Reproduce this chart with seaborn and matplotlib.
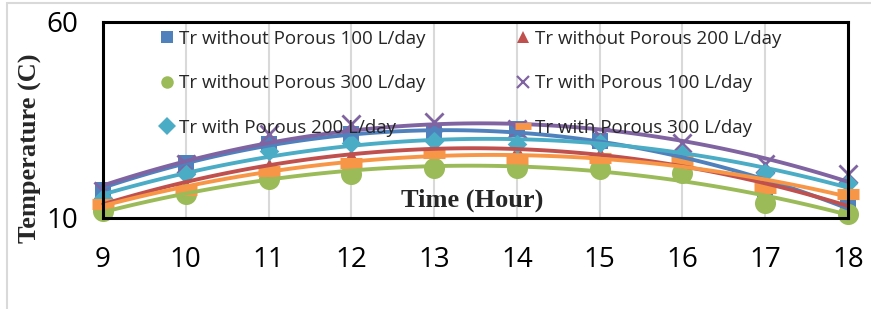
import matplotlib
matplotlib.use("Agg")
import matplotlib.pyplot as plt
import seaborn as sns
import pandas as pd
from matplotlib.patches import Rectangle

# Data
hours = [9, 10, 11, 12, 13, 14, 15, 16, 17, 18]
without_100 = [17.2, 24.1, 29.0, 31.5, 31.8, 32.8, 29.7, 25.4, 16.9, 14.4]
without_200 = [14.4, 18.2, 23.3, 25.9, 28.0, 27.2, 26.4, 24.1, 18.7, 12.6]
without_300 = [11.8, 16.2, 20.0, 21.3, 22.8, 22.8, 22.6, 21.5, 13.8, 11.0]
with_100 = [16.9, 23.8, 31.5, 34.1, 34.4, 32.8, 31.0, 29.2, 23.8, 21.3]
with_200 = [15.1, 21.3, 27.2, 29.2, 29.7, 29.0, 29.2, 26.4, 21.5, 19.0]
with_300 = [13.6, 17.2, 22.0, 24.1, 26.7, 25.1, 25.4, 24.6, 17.7, 16.2]

labels = [
    "Tr without Porous 100 L/day", "Tr without Porous 200 L/day",
    "Tr without Porous 300 L/day", "Tr with Porous 100 L/day",
    "Tr with Porous 200 L/day", "Tr with Porous 300 L/day",
]
series = [without_100, without_200, without_300, with_100, with_200, with_300]
colors = ["#4F81BD", "#C0504D", "#9BBB59", "#8064A2", "#4BACC6", "#F79646"]
markers = ["s", "^", "o", "x", "D", "_"]
msizes = [130, 130, 230, 170, 100, 260]

sns.set_style("white")
plt.rcParams["font.family"] = ["Open Sans", "DejaVu Sans"]

fig = plt.figure(figsize=(8.71, 3.09), dpi=100)
ax = fig.add_axes([103 / 871, 1 - 218 / 309, 745 / 871, 196 / 309])

# light gray chart-area border
fig.patches.append(Rectangle((7 / 871, -0.2), 1.2, 0.99 + 0.2, transform=fig.transFigure,
                             fill=False, edgecolor="#d9d9d9", linewidth=1.5, zorder=0))

handles = []
for lab, vals, c, m, s in zip(labels, series, colors, markers, msizes):
    df = pd.DataFrame({"hour": hours, "temp": vals})
    kw = dict(color=c, s=s, marker=m, ax=ax, clip_on=False, zorder=3)
    if m in ("x", "_"):
        kw["linewidth"] = 2.0 if m == "x" else 8
    else:
        kw["linewidth"] = 0
    sns.scatterplot(data=df, x="hour", y="temp", **kw)
    handles.append(plt.Line2D([], [], color=c, marker=m, linestyle="none",
                              markersize=9 if m != "_" else 11,
                              markeredgewidth=1.6 if m == "x" else (5 if m == "_" else 0)))

for vals, c in zip(series, colors):
    df = pd.DataFrame({"hour": hours, "temp": vals})
    sns.regplot(data=df, x="hour", y="temp", order=2, ci=None, scatter=False, ax=ax,
                line_kws=dict(color=c, linewidth=2.8, zorder=4, clip_on=False))

ax.set_xlim(9, 18)
ax.set_ylim(10, 60)
ax.set_xticks(hours)
ax.set_yticks([10, 60])
ax.tick_params(axis="x", length=0, pad=20, labelsize=20, labelcolor="black")
ax.tick_params(axis="y", length=0, pad=18, labelsize=20, labelcolor="black")
ax.set_xlabel("")
ax.set_ylabel("")
ax.grid(axis="x", color="#d9d9d9", linewidth=1.5)
ax.grid(axis="y", visible=False)
for sp in ax.spines.values():
    sp.set_color("black")
    sp.set_linewidth(2.2)
    sp.set_zorder(5)

order = [0, 2, 4, 1, 3, 5]
leg = ax.legend([handles[i] for i in order], [labels[i] for i in order],
                ncol=2, frameon=False, loc="upper left",
                bbox_to_anchor=(0.05, 1.045), fontsize=13.5,
                labelspacing=1.4, columnspacing=4.7, handletextpad=0.15,
                handlelength=1.0)
leg.set_zorder(10)

ax.text(0.495, 0.09, "Time (Hour)", transform=ax.transAxes, ha="center", va="center",
        fontsize=19, fontweight="bold", family="Liberation Serif", zorder=6)
fig.text(30 / 871, 1 - 148 / 309, "Temperature (C)", rotation=90, ha="center", va="center",
         fontsize=19, fontweight="bold", family="Liberation Serif")

plt.savefig("out.png", dpi=100)
plt.close()
